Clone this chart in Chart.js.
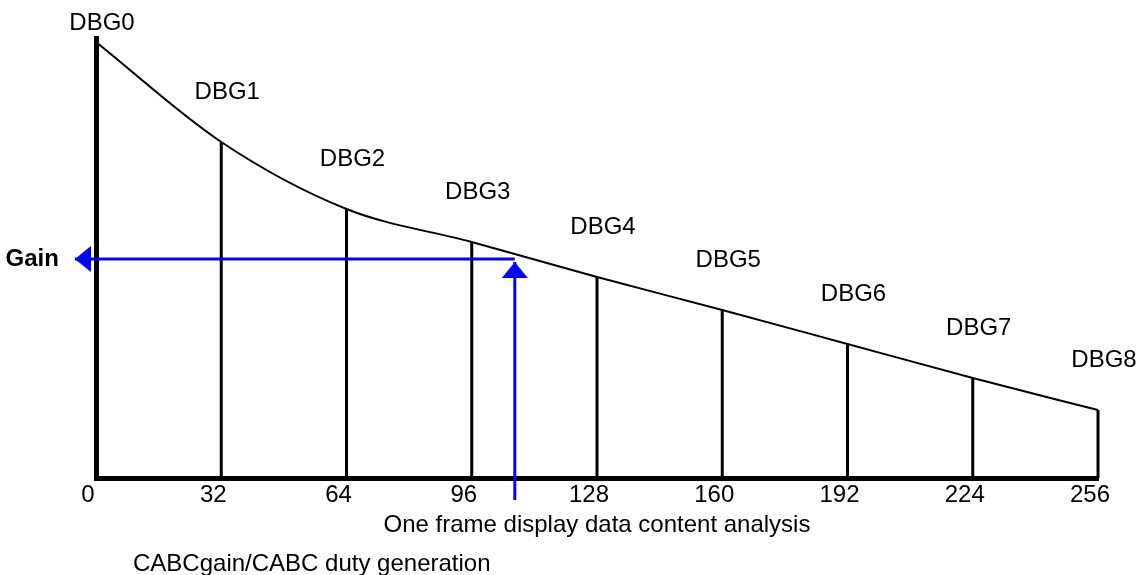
<!DOCTYPE html>
<html>
<head>
<meta charset="utf-8">
<script src="https://cdn.jsdelivr.net/npm/chart.js@4.4.0/dist/chart.umd.min.js"></script>
<style>
  html, body { margin: 0; padding: 0; background: #fff; }
</style>
</head>
<body>
<canvas id="gainChart" width="1140" height="575"></canvas>
<script>
// === Data ===
const levels = [0, 32, 64, 96, 128, 160, 192, 224, 256];
const gains = [436, 336, 269, 236, 201, 168, 134, 100, 68];
const pointNames = ['DBG0', 'DBG1', 'DBG2', 'DBG3', 'DBG4', 'DBG5', 'DBG6', 'DBG7', 'DBG8'];

// sample read-out (blue arrows)
const sampleLevel = 107;
const sampleGain = 219;
const gainArrowTip = -5.4;   // x value where the left arrow ends
const levelArrowTail = -22;  // y value where the up arrow starts
const levelArrowTip = 216;   // y value of the up arrow tip

const FONT = '"Liberation Sans", Arial, sans-serif';
const BLUE = '#0000ff';
Chart.defaults.font.family = FONT;

// === Arrow heads as point images ===
function makeArrowHead(dir) {
  const c = document.createElement('canvas');
  const w = 26, h = 16;
  if (dir === 'up') {
    c.width = w; c.height = h * 2;
  } else {
    c.width = h * 2; c.height = w;
  }
  const g = c.getContext('2d');
  g.fillStyle = BLUE;
  g.beginPath();
  if (dir === 'up') {
    g.moveTo(w / 2, h);
    g.lineTo(w, h * 2);
    g.lineTo(0, h * 2);
  } else {
    g.moveTo(h, w / 2);
    g.lineTo(h * 2, 0);
    g.lineTo(h * 2, w);
  }
  g.closePath();
  g.fill();
  return c;
}
const headUp = makeArrowHead('up');
const headLeft = makeArrowHead('left');

// === Datasets ===
const curve = {
  data: levels.map((lv, i) => ({ x: lv, y: gains[i] })),
  borderColor: '#000',
  borderWidth: 2,
  pointRadius: 0,
  cubicInterpolationMode: 'monotone',
  clip: false
};

// vertical drop lines from each DBG point to the axis
const drops = levels.slice(1).map((lv, i) => ({
  data: [{ x: lv, y: 0 }, { x: lv, y: gains[i + 1] }],
  borderColor: '#000',
  borderWidth: 3,
  pointRadius: 0,
  clip: false
}));

// big radius only so the point is not culled outside the chart area
const gainArrow = {
  data: [{ x: sampleLevel, y: sampleGain }, { x: gainArrowTip, y: sampleGain }],
  borderColor: BLUE,
  borderWidth: 3,
  pointRadius: [0, 30],
  pointBorderWidth: 0,
  pointStyle: headLeft,
  clip: false
};

const levelArrow = {
  data: [{ x: sampleLevel, y: levelArrowTail }, { x: sampleLevel, y: levelArrowTip }],
  borderColor: BLUE,
  borderWidth: 3,
  pointRadius: [0, 30],
  pointBorderWidth: 0,
  pointStyle: headUp,
  clip: false
};

// === Text plugin: DBG names, Gain, footer ===
const textPlugin = {
  id: 'gainText',
  afterDatasetsDraw(chart) {
    const { ctx, chartArea, scales: { x, y } } = chart;
    ctx.save();
    ctx.fillStyle = '#000';
    ctx.font = '24px ' + FONT;
    ctx.textAlign = 'center';
    ctx.textBaseline = 'alphabetic';
    levels.forEach((lv, i) => {
      const by = Math.max(y.getPixelForValue(gains[i]) - 43, chartArea.top - 8);
      ctx.fillText(pointNames[i], x.getPixelForValue(lv) + 6, by);
    });

    ctx.font = 'bold 24px ' + FONT;
    ctx.textAlign = 'right';
    ctx.fillText('Gain', x.getPixelForValue(gainArrowTip) - 16, y.getPixelForValue(sampleGain) + 7);

    ctx.font = '24px ' + FONT;
    ctx.textAlign = 'left';
    ctx.fillText('CABCgain/CABC duty generation', 133, 571);
    ctx.restore();
  }
};

new Chart(document.getElementById('gainChart'), {
  type: 'line',
  data: { datasets: [gainArrow, levelArrow, curve, ...drops] },
  options: {
    responsive: false,
    animation: false,
    layout: { padding: { left: 96, top: 38, right: 42, bottom: 0 } },
    plugins: {
      legend: { display: false },
      tooltip: { enabled: false }
    },
    scales: {
      x: {
        type: 'linear',
        min: 0,
        max: 256,
        grid: { display: false, drawTicks: false },
        border: { display: true, color: '#000', width: 5 },
        ticks: {
          stepSize: 32,
          color: '#000',
          font: { size: 24 },
          padding: 3,
          labelOffset: -8,
          maxRotation: 0,
          autoSkip: false
        },
        title: {
          display: true,
          text: 'One frame display data content analysis',
          color: '#000',
          font: { size: 24 },
          padding: { top: 35, bottom: 35 }
        },
        afterFit: s => { s.height = 97; }
      },
      y: {
        min: 0,
        max: 440,
        grid: { display: false, drawTicks: false },
        border: { display: true, color: '#000', width: 5 },
        ticks: { display: false },
        afterFit: s => { s.width = 0; }
      }
    }
  },
  plugins: [textPlugin]
});
</script>
</body>
</html>
